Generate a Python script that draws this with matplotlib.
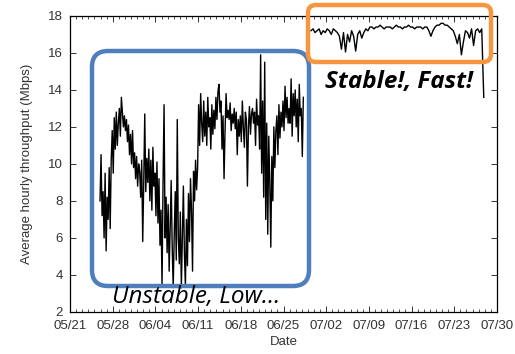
import numpy as np
import matplotlib
matplotlib.use("Agg")
import matplotlib.pyplot as plt
import matplotlib.dates as mdates
from matplotlib.patches import FancyBboxPatch

# unstable period: one value every 4 hours starting 05/25 22:00
unstable_start = np.datetime64("2012-05-25T22:00")
unstable_vals = [
    8.0, 10.5, 7.2, 8.5, 6.0, 9.5,
    5.3, 8.2, 7.0, 9.8, 6.5, 10.2,
    11.8, 9.5, 12.5, 10.8, 12.8, 11.0,
    12.2, 13.0, 11.5, 13.6, 12.8, 12.0,
    12.6, 11.8, 12.4, 11.2, 12.1, 10.5,
    11.6, 10.0, 11.8, 9.8, 10.6, 9.2,
    10.4, 8.8, 10.0, 9.6, 8.2, 10.2,
    5.8, 9.0, 12.7, 8.5, 10.3, 9.0,
    10.8, 8.0, 10.2, 7.5, 10.9, 8.8,
    9.5, 7.2, 10.1, 6.8, 9.2, 5.6,
    7.5, 3.4, 9.0, 13.2, 6.0, 8.2,
    5.2, 7.8, 4.2, 6.5, 9.1, 5.5,
    3.3, 6.2, 8.5, 4.8, 12.4, 6.0,
    4.6, 7.4, 3.3, 6.0, 8.8, 5.2,
    3.4, 7.0, 4.5, 8.4, 5.8, 9.2,
    7.5, 4.2, 9.6, 8.0, 10.2, 8.6,
    9.8, 13.2, 11.0, 13.8, 12.2, 11.2,
    13.4, 11.5, 12.8, 11.0, 13.6, 12.0,
    12.5, 10.8, 13.2, 11.6, 12.9, 11.9,
    13.6, 12.4, 13.9, 14.3, 12.8, 13.4,
    10.8, 12.6, 9.2, 11.8, 13.8, 12.5,
    12.9, 12.4, 13.3, 11.8, 12.7, 12.2,
    13.0, 11.9, 12.8, 10.5, 12.4, 11.5,
    12.6, 11.2, 13.4, 12.0, 10.9, 12.8,
    12.4, 8.8, 12.0, 13.1, 11.6, 12.7,
    13.0, 12.2, 12.8, 11.0, 13.5, 12.1,
    12.6, 10.8, 15.9, 9.5, 13.4, 8.2,
    15.5, 7.0, 12.2, 6.2, 11.5, 9.0,
    5.5, 10.4, 8.0, 12.0, 9.8, 11.8,
    12.6, 10.5, 13.2, 11.4, 12.8, 12.0,
    13.4, 11.8, 14.2, 12.5, 13.6, 12.2,
    13.0, 12.2, 14.6, 11.5, 13.8, 12.6,
    14.0, 12.0, 13.5, 11.2, 14.3, 12.6,
    13.0, 10.4, 13.6,
]

# stable period: one value every 8 hours starting 06/29 12:00
stable_start = np.datetime64("2012-06-29T12:00")
stable_vals = [
    17.2, 17.3, 17.1, 17.2, 17.3, 17.0, 17.2, 17.1, 17.3, 17.2,
    17.0, 17.3, 17.2, 17.1, 16.9, 16.2, 17.1, 16.05, 17.0, 16.6,
    17.2, 16.9, 16.1, 17.0, 17.2, 16.8, 17.1, 17.3, 17.2, 17.4,
    17.4, 17.3, 17.4, 17.4, 17.5, 17.4, 17.3, 17.4, 17.4, 17.4,
    17.3, 17.4, 17.5, 17.4, 17.4, 17.3, 17.4, 17.4, 17.5, 17.4,
    17.4, 17.3, 17.4, 17.4, 17.4, 17.3, 17.4, 17.4, 17.2, 16.9,
    17.2, 17.4, 17.5, 17.5, 17.6, 17.6, 17.5, 17.5, 17.4, 17.3,
    17.2, 16.9, 16.5, 17.0, 15.9, 16.6, 17.2, 17.1, 16.8, 17.3,
    16.4, 17.2, 17.3, 17.1, 17.3, 13.6,
]

unstable_t = unstable_start + np.arange(len(unstable_vals)) * np.timedelta64(4, "h")
stable_t = stable_start + np.arange(len(stable_vals)) * np.timedelta64(8, "h")

fig = plt.figure(figsize=(5.15, 3.54), dpi=100)
ax = fig.add_axes([0.136, 0.119, 0.829, 0.836])

ax.plot(unstable_t, unstable_vals, color="black", lw=1.0)
ax.plot(stable_t, stable_vals, color="black", lw=1.0)

ax.set_ylim(2, 18)
ax.set_yticks(range(2, 19, 2))
ax.set_xlim(np.datetime64("2012-05-21"), np.datetime64("2012-07-30"))
ax.set_xticks([np.datetime64("2012-05-21") + np.timedelta64(7 * i, "D") for i in range(11)])
ax.xaxis.set_major_formatter(mdates.DateFormatter("%m/%d"))
ax.xaxis.set_minor_locator(mdates.DayLocator())

ax.tick_params(which="both", direction="in", top=True, right=True,
               labelsize=9.5, colors="#333333", labelcolor="#333333")
ax.tick_params(which="major", length=4, width=0.7)
ax.tick_params(which="minor", length=2, width=0.6)
ax.tick_params(axis="x", pad=6)
ax.tick_params(axis="y", pad=5)
for lab in ax.get_xticklabels() + ax.get_yticklabels():
    lab.set_family("Liberation Sans")
for s in ax.spines.values():
    s.set_linewidth(0.9)

ax.set_xlabel("Date", fontsize=9.5, color="#333333", family="Liberation Sans", labelpad=3)
ax.set_ylabel("Average hourly throughput (Mbps)", fontsize=9.5, color="#333333",
              family="Liberation Sans", labelpad=11)

blue_box = FancyBboxPatch((0.92, 0.68), 2.17, 2.35,
                          boxstyle="round,pad=0,rounding_size=0.16",
                          transform=fig.dpi_scale_trans, fill=False,
                          edgecolor="#4F7EBD", lw=3.2)
orange_box = FancyBboxPatch((3.08, 2.92), 1.83, 0.57,
                            boxstyle="round,pad=0,rounding_size=0.08",
                            transform=fig.dpi_scale_trans, fill=False,
                            edgecolor="#F7963F", lw=3.2)
fig.add_artist(blue_box)
fig.add_artist(orange_box)

fig.text(3.25, 2.66, "Stable!, Fast!", transform=fig.dpi_scale_trans,
         fontsize=17.5, fontweight="bold", fontstyle="italic", family="Open Sans",
         va="baseline", ha="left")
fig.text(1.12, 0.51, "Unstable, Low\u2026", transform=fig.dpi_scale_trans,
         fontsize=17.5, fontstyle="italic", family="Open Sans",
         va="baseline", ha="left")

fig.savefig("out.png", dpi=100)
